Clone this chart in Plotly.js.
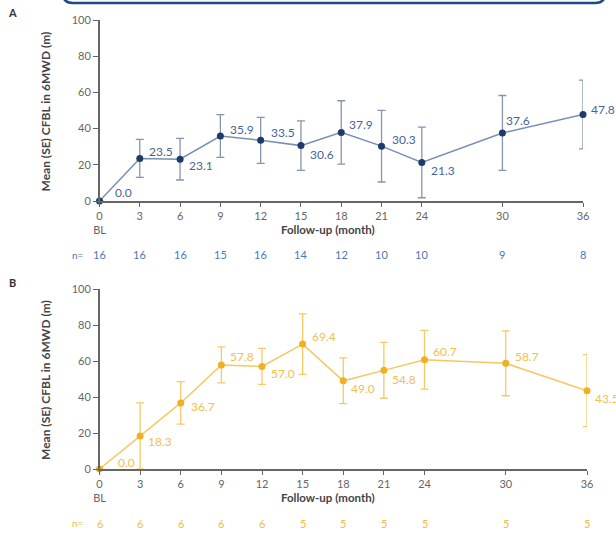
<!DOCTYPE html>
<html><head><meta charset="utf-8">
<script src="https://cdn.plot.ly/plotly-3.0.1.min.js"></script>
<style>body{margin:0;padding:0;background:#fff}#chart{width:616px;height:534px}</style>
</head><body><div id="chart"></div>
<script>
// ---- data ----
const months = [0, 3, 6, 9, 12, 15, 18, 21, 24, 30, 36];
const tickLabels = ["0<br>BL", "3", "6", "9", "12", "15", "18", "21", "24", "30", "36"];
const meanA = [0.0, 23.5, 23.1, 35.9, 33.5, 30.6, 37.9, 30.3, 21.3, 37.6, 47.8];
const seA   = [0, 10.5, 11.5, 11.8, 12.7, 13.7, 17.5, 19.8, 19.5, 20.7, 19.0];
const nA    = [16, 16, 16, 15, 16, 14, 12, 10, 10, 9, 8];
const meanB = [0.0, 18.3, 36.7, 57.8, 57.0, 69.4, 49.0, 54.8, 60.7, 58.7, 43.5];
const seB   = [0, 18.4, 11.8, 10.0, 10.0, 16.8, 12.7, 15.5, 16.3, 18.0, 20.0];
const nB    = [6, 6, 6, 6, 6, 5, 5, 5, 5, 5, 5];
const yTitle = "Mean (SE) CFBL in 6MWD (m)";
const xTitle = "Follow-up (month)";

// ---- label placement (style: pixel offsets of value labels from their points) ----
const labelDyA = [9, 7, -6, 7, 8, -9, 8, 7, -8, 12, 5];
const labelDxA = [13, 7, 7, 8, 8, 7, 6, 8, 7, 2, 6];
const labelDyB = [7, -5, -4, 8, -7, 8, -8, -9, 8, 7, -8];
const labelDxB = [16, 6, 8, 7, 7, 7, 6, 6, 6, 7, 6];

const W = 616, H = 534;
const px = v => v / W, py = v => 1 - v / H;
const FONT = "Lato, 'Open Sans', sans-serif";
const cA = {marker:"#1e3a6c", line:"#7690b3", err:"#8495ad", text:"#45659a", n:"#4d78b3"};
const cB = {marker:"#f0b020", line:"#f6c760", err:"#f5c965", text:"#f2c04c", n:"#f0bb45"};

function trace(y, se, c, xa, ya) {
  return {
    x: months, y: y, xaxis: xa, yaxis: ya, type: "scatter", mode: "lines+markers",
    line: {color: c.line, width: 1.5},
    marker: {color: c.marker, size: 7},
    error_y: {type: "data", array: se, visible: true, color: c.err, thickness: 1.3, width: 4},
    cliponaxis: false, showlegend: false, hoverinfo: "skip"
  };
}

const xCommon = {
  range: [0, 36], tickvals: months, ticktext: tickLabels, showgrid: false, zeroline: false,
  showline: true, linecolor: "#666", linewidth: 1.5, ticks: "outside", ticklen: 4, tickcolor: "#666",
  tickfont: {family: FONT, size: 11, color: "#666"}, fixedrange: true
};
const yCommon = {
  range: [0, 100], tickvals: [0, 20, 40, 60, 80, 100], showgrid: false, zeroline: false,
  showline: true, linecolor: "#666", linewidth: 1.5, ticks: "outside", ticklen: 5, tickcolor: "#666",
  tickfont: {family: FONT, size: 11, color: "#666"}, fixedrange: true
};

const annotations = [];
function addPanel(letter, axisY, topY, means, dx, dy, c, nvals, xa, ya) {
  annotations.push({xref:"paper", yref:"paper", x: px(12), y: py(topY - 7), text: "<b>" + letter + "</b>",
    showarrow:false, xanchor:"center", yanchor:"middle", font:{family:FONT, size:11, color:"#333"}});
  annotations.push({xref:"paper", yref:"paper", x: px(45), y: py((topY + axisY) / 2 + 1), text: "<b>" + yTitle + "</b>",
    textangle: -90, showarrow:false, xanchor:"center", yanchor:"middle", font:{family:FONT, size:12, color:"#444"}});
  annotations.push({xref:"paper", yref:"paper", x: px(328), y: py(axisY + 29), text: "<b>" + xTitle + "</b>",
    showarrow:false, xanchor:"center", yanchor:"middle", font:{family:FONT, size:11.5, color:"#444"}});
  annotations.push({xref:"paper", yref:"paper", x: px(78), y: py(axisY + 54), text: "n=",
    showarrow:false, xanchor:"center", yanchor:"middle", font:{family:FONT, size:10, color:c.n}});
  months.forEach((m, i) => annotations.push({xref: xa, yref:"paper", x: m, y: py(axisY + 54), text: String(nvals[i]),
    showarrow:false, xanchor:"center", yanchor:"middle", font:{family:FONT, size:11, color:c.n}}));
  months.forEach((m, i) => annotations.push({xref: xa, yref: ya, x: m, y: means[i], text: means[i].toFixed(1),
    xshift: dx[i], yshift: dy[i], showarrow:false, xanchor:"left", yanchor:"middle",
    font:{family:FONT, size:12, color:c.text}}));
}
addPanel("A", 201, 20, meanA, labelDxA, labelDyA, cA, nA, "x", "y");
addPanel("B", 469, 289, meanB, labelDxB, labelDyB, cB, nB, "x2", "y2");

const layout = {
  width: W, height: H, margin: {l:0, r:0, t:0, b:0}, paper_bgcolor: "#fff", plot_bgcolor: "rgba(0,0,0,0)",
  xaxis: Object.assign({}, xCommon, {domain: [px(99.5), px(583)], anchor: "y"}),
  yaxis: Object.assign({}, yCommon, {domain: [py(201), py(20)], anchor: "x"}),
  xaxis2: Object.assign({}, xCommon, {domain: [px(99.5), px(587)], anchor: "y2"}),
  yaxis2: Object.assign({}, yCommon, {domain: [py(469), py(289)], anchor: "x2"}),
  annotations: annotations,
  shapes: [{type:"path", xref:"paper", yref:"paper",
    path: `M ${px(63)} ${py(-6)} Q ${px(63)} ${py(3)} ${px(73)} ${py(3)} L ${px(595)} ${py(3)} Q ${px(605)} ${py(3)} ${px(605)} ${py(-6)}`,
    line: {color: "#1d4a8a", width: 2.5}}]
};

Plotly.newPlot("chart", [trace(meanA, seA, cA, "x", "y"), trace(meanB, seB, cB, "x2", "y2")], layout, {staticPlot: true});
</script></body></html>
